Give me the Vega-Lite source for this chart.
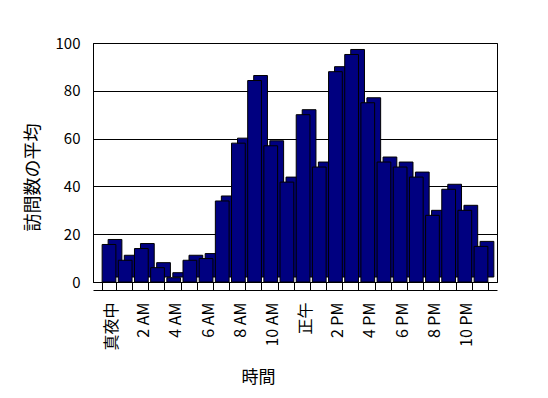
{
  "$schema": "https://vega.github.io/schema/vega-lite/v6.json",
  "autosize": {"type": "none"},
  "padding": {"left": 93, "top": 43, "right": 51, "bottom": 116},
  "width": 404,
  "height": 239,
  "background": "white",
  "view": {"stroke": "black", "strokeWidth": 1},
  "config": {
    "font": "Noto Sans CJK JP",
    "axis": {"labelColor": "black", "titleColor": "black", "titleFontWeight": "normal", "domainColor": "black", "tickColor": "black", "gridColor": "black", "gridOpacity": 1}
  },
  "data": {
    "values": [
      {"hour": "真夜中", "visits": 15.7},
      {"hour": "1 AM", "visits": 9.1},
      {"hour": "2 AM", "visits": 14.0},
      {"hour": "3 AM", "visits": 6.0},
      {"hour": "4 AM", "visits": 1.8},
      {"hour": "5 AM", "visits": 9.1},
      {"hour": "6 AM", "visits": 9.8},
      {"hour": "7 AM", "visits": 33.9},
      {"hour": "8 AM", "visits": 58.1},
      {"hour": "9 AM", "visits": 84.3},
      {"hour": "10 AM", "visits": 57.0},
      {"hour": "11 AM", "visits": 41.8},
      {"hour": "正午", "visits": 70.0},
      {"hour": "1 PM", "visits": 48.1},
      {"hour": "2 PM", "visits": 88.0},
      {"hour": "3 PM", "visits": 95.2},
      {"hour": "4 PM", "visits": 75.0},
      {"hour": "5 PM", "visits": 50.2},
      {"hour": "6 PM", "visits": 48.1},
      {"hour": "7 PM", "visits": 43.9},
      {"hour": "8 PM", "visits": 27.9},
      {"hour": "9 PM", "visits": 38.8},
      {"hour": "10 PM", "visits": 30.0},
      {"hour": "11 PM", "visits": 14.9}
    ]
  },
  "encoding": {
    "y": {
      "field": "visits",
      "type": "quantitative",
      "scale": {"domain": [0, 100], "nice": false},
      "axis": {
        "title": "訪問数の平均",
        "titleFontSize": 18,
        "titleX": -60,
        "titleY": 134,
        "titleAlign": "center",
        "titleBaseline": "middle",
        "values": [0, 20, 40, 60, 80, 100],
        "labelFontSize": 15,
        "labelPadding": 13,
        "ticks": false,
        "grid": true
      }
    }
  },
  "layer": [
    {
      "mark": {"type": "bar", "color": "#000080", "stroke": "black", "strokeWidth": 1, "xOffset": 6, "yOffset": -5},
      "encoding": {
        "x": {
          "field": "hour",
          "type": "nominal",
          "sort": null,
          "scale": {"paddingInner": 0.15, "paddingOuter": 0.565},
          "axis": {"orient": "bottom", "title": null, "labels": false, "ticks": false, "grid": false, "offset": 8, "domainColor": "black"}
        }
      }
    },
    {
      "mark": {"type": "bar", "color": "#000080", "stroke": "black", "strokeWidth": 1},
      "encoding": {
        "x": {
          "field": "hour",
          "type": "nominal",
          "sort": null,
          "scale": {"paddingInner": 0.15, "paddingOuter": 0.565},
          "axis": {
            "orient": "bottom",
            "title": "時間",
            "titleFontSize": 17,
            "titleX": 165,
            "titleY": 95,
            "titleAlign": "center",
            "titleBaseline": "middle",
            "labelAngle": -90,
            "labelFontSize": 16,
            "labelPadding": 12,
            "labelOffset": 2,
            "labelExpr": "indexof(['1 AM','3 AM','5 AM','7 AM','9 AM','11 AM','1 PM','3 PM','5 PM','7 PM','9 PM','11 PM'], datum.value) >= 0 ? '' : datum.label",
            "tickBand": "extent",
            "tickSize": 8,
            "grid": false
          }
        }
      }
    }
  ],
  "resolve": {"axis": {"x": "independent"}}
}
